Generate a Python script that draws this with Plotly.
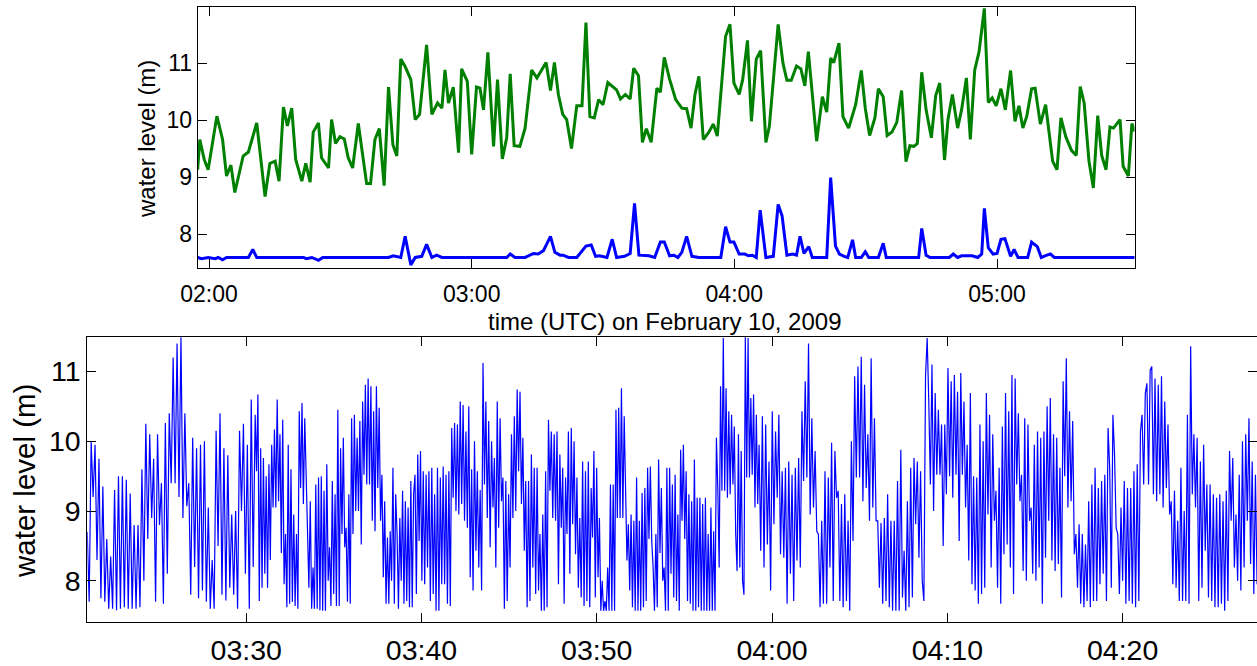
import numpy as np
import pandas as pd
import plotly.graph_objects as go

# ---------------- data ----------------
# top panel: minutes after 02:00 UTC, 10 Feb 2009
green_t = [-2.6, -2.1, -1.1, -0.2, 1.8, 3.1, 4.0, 5.0, 5.9, 7.8, 9.0, 10.9, 12.8, 13.9, 15.1, 16.0, 17.0, 17.9, 18.9,
           19.8, 21.2, 22.1, 23.1, 23.8, 25.0, 25.7, 27.3, 28.0, 28.9, 29.9, 30.9, 31.8, 32.8, 34.1, 36.0, 36.9, 37.9,
           38.9, 40.0, 41.0, 42.0, 42.9, 43.8, 44.8, 46.1, 47.1, 48.1, 49.7, 50.9, 52.2, 53.2, 53.9, 54.7, 55.8, 57.0,
           57.7, 59.0, 60.0, 61.1, 61.9, 62.7, 63.7, 65.0, 65.9, 67.0, 68.0, 68.8, 69.7, 71.0, 72.2, 73.7, 74.9, 77.0,
           78.0, 78.9, 79.8, 80.8, 81.7, 82.8, 84.0,
           85.2, 86.1, 87.0, 88.0, 89.0, 90.0, 91.1, 92.2, 93.1, 94.0, 95.1, 96.2, 97.0, 98.1, 99.0, 99.9, 101.0,
           102.3, 103.1, 104.0, 105.2, 106.6, 108.0, 109.1, 110.1, 111.0, 111.9, 112.9, 114.1, 115.2, 116.1, 118.0,
           119.0, 119.9, 121.1, 121.9, 123.0, 123.9, 125.0, 126.0, 127.2, 128.0, 130.0, 131.1, 132.0, 133.0, 134.2,
           135.2, 136.1, 136.9, 138.8, 140.1, 141.1, 142.0, 142.7, 143.9, 144.8, 146.1, 147.7, 149.0, 149.9, 150.9,
           152.1, 152.9, 154.0, 154.9, 156.0, 157.1, 158.2, 159.2, 160.1, 161.0, 161.8, 162.8, 163.8, 165.0, 166.0,
           166.9, 168.0, 168.8, 169.8, 171.0, 171.9, 173.0, 173.9, 174.9, 175.9, 177.1, 178.0, 178.9, 179.8, 180.9,
           181.9, 183.1, 184.1, 185.0, 185.9, 186.8, 187.9, 188.7, 189.9, 191.1, 192.7, 193.7, 194.6, 195.7, 197.0,
           198.1, 199.0, 199.9, 201.0, 202.0, 203.0, 203.9, 204.9, 205.8, 206.6, 208.1, 208.8, 210.0, 210.8, 211.5]
green_v = [9.13, 9.66, 9.31, 9.13, 10.07, 9.66, 9.02, 9.21, 8.73, 9.37, 9.44, 9.95, 8.66, 9.24, 9.28, 8.93, 10.23, 9.90,
           10.21, 9.31, 8.93, 9.24, 8.91, 9.79, 9.95, 9.34, 9.16, 10.01, 9.59, 9.71, 9.67, 9.34, 9.16, 9.94, 8.89, 8.89,
           9.66, 9.85, 8.85, 10.58, 9.57, 9.37, 11.07, 10.94, 10.71, 10.01, 10.10, 11.32, 10.10, 10.30, 10.21, 10.88,
           10.30, 10.58, 9.43, 10.90, 10.68, 9.40, 10.58, 10.56, 10.18, 11.19, 9.54, 10.71, 9.32, 9.69, 10.81, 9.55,
           9.54, 9.86, 10.88, 10.74, 11.01, 10.52, 11.01, 10.45, 10.10, 10.01, 9.50, 10.25,
           10.25, 11.71, 10.06, 10.04, 10.36, 10.27, 10.66, 10.58, 10.53, 10.37, 10.45, 10.37, 10.91, 10.78, 9.61,
           9.85, 9.61, 10.56, 10.49, 11.10, 10.72, 10.36, 10.21, 10.20, 9.86, 10.45, 10.77, 9.66, 9.78, 9.93, 9.72,
           11.47, 11.68, 10.65, 10.45, 10.71, 11.40, 9.98, 11.07, 11.22, 9.61, 9.89, 11.68, 11.00, 10.70, 10.70,
           10.95, 10.90, 10.60, 11.20, 9.63, 10.41, 10.14, 11.09, 11.01, 11.35, 10.06, 9.86, 10.27, 10.87, 10.21,
           9.73, 10.04, 10.55, 10.41, 9.73, 9.79, 9.96, 10.52, 9.27, 9.55, 9.54, 9.59, 10.84, 10.18, 9.69, 10.43,
           10.65, 9.30, 10.01, 10.45, 9.86, 10.18, 10.74, 9.66, 10.88, 11.20, 11.96, 10.31, 10.39, 10.25, 10.55,
           10.18, 10.87, 9.98, 10.25, 9.86, 10.07, 10.55, 10.56, 9.93, 10.27, 9.28, 9.13, 10.04, 9.71, 9.47, 9.38,
           10.59, 10.30, 9.28, 8.81, 10.08, 9.38, 9.13, 9.88, 9.86, 10.01, 9.19, 9.02, 9.94, 9.80]

blue_t = [-2.6, -1.7, -0.2, 1.4, 2.1, 3.1, 4.0, 9.0, 10.0, 10.9, 21.6, 22.2, 23.5, 25.0, 26.0, 41.0, 42.1, 43.8, 44.8,
          46.1, 47.1, 48.6, 49.7, 50.9, 52.0, 53.2, 68.0, 68.8, 69.9, 72.2, 74.1, 75.2, 76.4, 78.0, 79.0, 80.2, 80.9,
          82.1, 84.0,
          86.1, 87.3, 88.3, 89.2, 90.9, 92.1, 93.1, 94.9, 96.2, 97.2, 98.2, 100.5, 101.8, 103.1, 104.0, 105.2, 106.2,
          107.1, 108.0, 109.1, 110.3, 111.9, 116.9, 118.0, 119.0, 119.9, 121.1, 122.4, 123.2, 124.1, 125.0, 125.9,
          127.2, 128.9, 130.0, 130.9, 132.0, 133.3, 134.2, 135.0, 135.9, 137.0, 137.8, 141.1, 142.0, 143.1, 144.0,
          145.1, 145.9, 147.0, 147.7, 149.0, 149.9, 150.7, 152.9, 154.0, 154.7, 162.1, 162.8, 163.8, 164.7, 169.1,
          170.0, 171.0, 171.9, 174.3, 175.6, 176.5, 177.1, 178.0, 179.1, 180.0, 180.9, 181.8, 183.1, 183.9, 184.8,
          187.0, 187.9, 189.2, 190.1, 191.4, 192.2, 193.1, 211.5]
blue_v = [7.59, 7.57, 7.59, 7.57, 7.59, 7.55, 7.59, 7.59, 7.73, 7.59, 7.59, 7.57, 7.59, 7.54, 7.59, 7.59, 7.62, 7.59,
          7.96, 7.46, 7.59, 7.61, 7.82, 7.59, 7.63, 7.59, 7.59, 7.65, 7.59, 7.59, 7.66, 7.65, 7.71, 7.96, 7.68, 7.63,
          7.63, 7.59, 7.59,
          7.79, 7.81, 7.61, 7.62, 7.59, 7.91, 7.59, 7.61, 7.66, 8.54, 7.63, 7.62, 7.59, 7.86, 7.86, 7.62, 7.63, 7.59,
          7.68, 7.96, 7.61, 7.59, 7.59, 8.13, 7.86, 7.86, 7.65, 7.65, 7.62, 7.63, 7.59, 8.42, 7.59, 7.61, 8.52, 8.32,
          7.63, 7.65, 7.63, 7.96, 7.66, 7.78, 7.59, 7.59, 8.99, 7.79, 7.65, 7.61, 7.59, 7.90, 7.59, 7.59, 7.69, 7.59,
          7.59, 7.84, 7.59, 7.59, 8.10, 7.63, 7.59, 7.59, 7.65, 7.59, 7.62, 7.62, 7.59, 7.65, 8.45, 7.76, 7.65, 7.66,
          7.91, 7.92, 7.61, 7.73, 7.59, 7.59, 7.86, 7.78, 7.59, 7.63, 7.65, 7.59, 7.59]

# bottom panel: high-rate record, minutes after 03:30 UTC; segment start times and the end time
seg_edges = [-9.07, 0.51, 10.10, 19.68, 29.26, 38.85, 48.43, 57.67]
seg1 = [8.7, 7.7, 10.0, 9.2, 9.95, 8.3, 9.75, 7.75, 9.35, 7.7, 8.6, 7.6, 8.35, 7.6, 9.3, 7.58, 9.5, 7.6, 9.5, 7.62,
        9.45, 7.6, 9.25, 7.6, 8.8, 7.6, 8.8, 7.62, 9.6, 8.0, 10.25, 8.6, 10.1, 8.9, 9.75, 7.7, 10.1, 8.8, 9.4, 7.67,
        10.26, 8.1, 10.4, 9.4, 11.2, 9.4, 11.4, 9.2, 11.5, 8.9, 10.4, 9.07, 9.4, 7.8, 10.05, 8.2, 9.9, 7.75, 9.95,
        7.86, 10.0, 7.7, 9.05, 7.6, 8.3, 7.6, 10.15, 8.5, 10.4, 7.8, 9.9, 7.72, 9.8, 7.9, 8.95, 7.8, 9.0, 7.6, 10.15,
        9.0, 10.25, 8.1, 9.95, 7.6, 10.6, 8.2]
seg2 = [10.38, 9.57, 10.67, 7.71, 9.9, 7.9, 9.76, 8.1, 9.5, 7.9, 9.67, 8.3, 9.95, 9.05, 10.17, 9.05, 10.6, 9.14, 10.1,
        8.4, 10.31, 7.95, 8.67, 7.62, 9.95, 7.67, 9.6, 7.7, 8.95, 7.64, 8.67, 7.6, 10.43, 9.33, 10.55, 9.1, 10.33,
        9.52, 9.14, 7.9, 9.14, 7.6, 8.19, 7.6, 9.38, 7.6, 9.48, 7.58, 9.5, 7.57, 9.29, 7.57, 9.67, 8.0, 8.48, 7.64,
        9.43, 7.81, 9.24, 7.64, 10.45, 7.64, 9.9, 8.67, 10.05, 8.48, 8.76, 7.7, 9.24, 7.67, 10.33, 8.67, 10.38, 9.0,
        10.05, 9.0, 10.29, 8.52, 10.57, 9.52, 10.81, 9.38, 10.9, 9.38, 10.79, 8.86, 10.43, 8.71, 10.79, 9.33, 10.48,
        8.86, 9.52, 8.05, 9.14, 7.67, 8.62, 7.67, 8.71, 8.0, 9.62, 7.67, 9.24, 8.67, 7.6, 8.9, 8.0, 9.29, 7.67, 9.14,
        7.71, 9.05, 7.62, 9.43, 7.62, 9.24, 9.52, 7.81, 9.81, 8.57, 9.86, 8.0]
seg3 = [9.57, 7.95, 9.52, 8.19, 9.57, 7.71, 9.62, 7.81, 9.24, 7.57, 9.62, 7.57, 9.48, 7.95, 9.64, 7.95, 9.52, 7.67,
        9.57, 7.64, 10.19, 9.19, 10.26, 9.0, 10.24, 8.95, 10.57, 9.1, 10.52, 8.86, 10.14, 8.76, 10.5, 8.05, 9.6, 7.86,
        10.0, 8.43, 9.57, 8.19, 9.3, 7.86, 11.12, 9.38, 10.57, 8.9, 10.29, 8.48, 10.0, 9.05, 9.76, 8.19, 10.57, 8.76,
        10.33, 9.14, 9.48, 7.6, 9.43, 7.71, 9.24, 8.19, 10.1, 8.9, 10.36, 9.0, 10.74, 9.57, 10.71, 9.1, 10.05, 8.43,
        9.43, 7.62, 9.43, 7.71, 9.81, 8.19, 9.62, 7.81, 9.62, 7.86, 8.67, 7.57, 8.95, 7.57, 9.57, 7.62, 10.31, 9.29,
        10.14, 8.9, 10.1, 8.86, 10.14, 7.95, 9.81, 8.76, 9.62, 7.67, 9.48, 8.67, 10.14, 8.1, 10.19, 8.81, 10.0, 8.38,
        9.48, 7.9, 8.9, 7.76, 9.71, 7.64, 9.57, 7.71, 9.71, 7.62]
seg4 = [9.33, 8.62, 9.86, 7.76, 9.62, 8.05, 8.9, 7.57, 8.0, 7.57, 7.71, 7.57, 8.19, 7.57, 9.38, 7.57, 9.38, 7.57,
        10.45, 8.9, 10.48, 8.9, 10.76, 8.9, 10.36, 9.29, 8.29, 8.81, 7.86, 8.95, 7.62, 8.86, 7.57, 9.48, 7.57, 8.86,
        7.57, 9.26, 7.62, 9.33, 7.71, 9.62, 8.6, 9.64, 8.57, 8.19, 7.57, 8.67, 7.62, 9.74, 8.4, 9.33, 8.0, 8.19, 7.57,
        9.62, 7.57, 9.62, 8.1, 9.38, 7.76, 9.52, 7.71, 8.95, 7.57, 9.88, 8.86, 9.95, 8.6, 9.57, 7.71, 9.24, 7.67,
        9.14, 7.57, 9.74, 7.57, 9.19, 7.62, 9.19, 7.57, 9.1, 7.57, 9.19, 7.57, 8.67, 7.57, 9.05, 7.57, 8.71, 7.57,
        10.05, 9.33, 8.19, 10.79, 9.29, 11.48, 9.29, 10.76, 9.19, 10.43, 9.24, 10.38, 9.38, 10.21, 8.67, 8.14, 10.1,
        8.19, 9.86, 8.0, 7.8, 11.5, 9.48, 11.48, 9.48, 10.62, 9.52, 10.67, 9.05, 10.38, 9.1]
seg5 = [9.95, 8.43, 10.36, 8.19, 10.24, 8.52, 9.71, 7.86, 10.43, 8.81, 10.14, 9.19, 10.38, 8.38, 9.57, 8.33, 9.62,
        7.67, 9.71, 8.1, 9.52, 7.71, 9.62, 8.29, 9.76, 8.19, 10.43, 9.43, 10.86, 9.48, 11.4, 8.95, 10.33, 9.05, 9.86,
        8.71, 8.67, 7.62, 8.86, 7.67, 9.57, 7.67, 9.48, 8.19, 9.98, 7.71, 9.86, 9.19, 9.29, 7.71, 9.1, 7.62, 9.24,
        7.71, 8.86, 7.57, 10.0, 8.57, 10.93, 9.48, 11.07, 9.48, 11.21, 9.14, 10.81, 9.33, 10.1, 8.86, 11.19, 9.05,
        10.33, 8.86, 8.86, 7.9, 8.83, 7.67, 8.9, 7.71, 9.24, 7.62, 8.86, 7.57, 8.86, 7.57, 9.43, 7.57, 9.88, 7.76,
        8.43, 7.57, 9.14, 7.62, 9.62, 7.76, 9.76, 8.81, 9.71, 8.33, 9.57, 8.0, 7.71, 10.93]
seg6 = [11.48, 10.57, 9.38, 11.1, 9.0, 10.69, 9.52, 10.45, 9.52, 10.24, 8.5, 10.24, 9.24, 11.05, 9.5, 10.86, 9.19,
        10.95, 9.52, 10.71, 8.57, 10.98, 9.52, 10.57, 9.05, 9.95, 8.29, 10.69, 7.95, 9.5, 7.86, 9.48, 7.67, 10.24,
        7.81, 10.0, 7.9, 10.69, 8.95, 10.38, 8.19, 10.1, 8.86, 9.29, 7.9, 9.62, 7.67, 10.21, 8.38, 10.69, 8.52,
        10.43, 8.19, 10.95, 7.81, 10.9, 9.38, 10.4, 9.14, 9.52, 8.14, 10.33, 8.0, 10.24, 8.86, 9.05, 8.1, 9.95, 8.0,
        10.14, 8.19, 10.05, 7.67, 10.14, 8.33, 10.5, 8.86, 10.62, 8.29, 10.1, 8.14, 10.05, 8.24, 9.62, 7.76, 10.86,
        9.5, 11.19, 9.05, 10.43, 9.14, 10.29, 8.38, 8.67, 7.9, 8.81, 7.67, 8.67, 7.62, 8.52, 7.71, 9.14, 7.62, 9.38,
        7.71]
seg7 = [9.62, 7.71, 9.33, 7.95, 9.43, 8.1, 9.52, 7.71, 10.19, 9.62, 7.9, 10.38, 9.81, 8.76, 8.67, 7.81, 9.05, 8.0,
        9.43, 7.67, 9.33, 7.71, 9.33, 7.67, 9.57, 7.62, 9.67, 7.71, 10.14, 10.38, 9.38, 10.69, 10.83, 9.38, 11.02,
        11.07, 9.24, 10.9, 9.14, 10.81, 9.24, 10.93, 9.05, 10.57, 9.33, 10.24, 8.95, 9.14, 7.95, 9.29, 7.9, 8.86,
        7.71, 9.62, 7.71, 9.0, 7.71, 10.38, 7.67, 11.36, 9.24, 10.1, 9.05, 10.05, 7.71, 9.71, 7.9, 9.95, 8.43, 9.38,
        7.76, 9.38, 7.71, 9.24, 7.62, 9.19, 7.62, 9.24, 7.67, 9.14, 7.57, 9.29, 7.71, 9.86, 8.86, 9.76, 8.19, 8.95,
        8.0, 9.52, 7.86, 10.0, 8.19, 10.1, 8.86, 10.33, 8.24, 9.71, 7.81, 9.52, 7.95]
segments = [seg1, seg2, seg3, seg4, seg5, seg6, seg7]

top_ticks = ["02:00", "03:00", "04:00", "05:00"]
bot_ticks = ["03:30", "03:40", "03:50", "04:00", "04:10", "04:20"]
y_ticks = [8, 9, 10, 11]

# ---------------- build ----------------
day = "2009-02-10 "
base_top = pd.Timestamp(day + "02:00")
base_bot = pd.Timestamp(day + "03:30")
gx = base_top + pd.to_timedelta(green_t, unit="m")
bx = base_top + pd.to_timedelta(blue_t, unit="m")

bt, bv = [], []
for k, seg in enumerate(segments):
    last = (k == len(segments) - 1)
    t = np.linspace(seg_edges[k], seg_edges[k + 1], len(seg), endpoint=last)
    bt.extend(t.tolist())
    bv.extend(seg)
hx = base_bot + pd.to_timedelta(bt, unit="m")

W, H = 1257, 666
FONT = "Liberation Sans, Arial, Helvetica, sans-serif"

fig = go.Figure()
fig.add_trace(go.Scatter(x=gx, y=green_v, mode="lines", line=dict(color="#008000", width=3),
                         xaxis="x", yaxis="y", showlegend=False))
fig.add_trace(go.Scatter(x=bx, y=blue_v, mode="lines", line=dict(color="#0000ff", width=3),
                         xaxis="x", yaxis="y", showlegend=False))
fig.add_trace(go.Scatter(x=hx, y=bv, mode="lines", line=dict(color="#0000ff", width=1.2),
                         xaxis="x2", yaxis="y2", showlegend=False))

ax_common = dict(showgrid=False, zeroline=False, showline=True, linecolor="black", linewidth=1,
                 mirror="ticks", ticks="inside", ticklen=9, tickcolor="black", tickwidth=1,
                 automargin=False)

fig.update_layout(
    width=W, height=H, margin=dict(l=0, r=0, t=0, b=0, pad=0), autosize=False,
    paper_bgcolor="white", plot_bgcolor="white",
    font=dict(family=FONT, color="black"),
    xaxis=dict(ax_common, type="date", domain=[197.7 / W, 1134.5 / W], anchor="y",
               range=[day + "01:57:25", day + "05:31:24"],
               tickvals=[day + s for s in top_ticks], ticktext=top_ticks,
               ticklabelstandoff=5,
               tickfont=dict(size=23, family=FONT)),
    yaxis=dict(ax_common, domain=[1 - 268.3 / H, 1 - 6.7 / H], anchor="x",
               range=[7.4, 11.99], tickvals=y_ticks, ticktext=[str(v) for v in y_ticks],
               tickfont=dict(size=23, family=FONT)),
    xaxis2=dict(ax_common, type="date", domain=[87.3 / W, 1.0], anchor="y2",
                range=[day + "03:20:56", day + "04:27:40"],
                tickvals=[day + s for s in bot_ticks], ticktext=bot_ticks,
                ticklabelstandoff=3,
                tickfont=dict(size=28.5, family=FONT)),
    yaxis2=dict(ax_common, domain=[1 - 622 / H, 1 - 337.3 / H], anchor="x2",
                range=[7.41, 11.49], tickvals=y_ticks, ticktext=[str(v) for v in y_ticks],
                tickfont=dict(size=28.5, family=FONT)),
    annotations=[
        dict(text="water level (m)", xref="paper", yref="paper", x=146 / W, y=1 - 139 / H,
             textangle=-90, showarrow=False, xanchor="center", yanchor="middle",
             font=dict(size=24, family=FONT)),
        dict(text="time (UTC) on February 10, 2009", xref="paper", yref="paper", x=664 / W, y=1 - 321.5 / H,
             showarrow=False, xanchor="center", yanchor="middle", font=dict(size=24, family=FONT)),
        dict(text="water level (m)", xref="paper", yref="paper", x=24 / W, y=1 - 481 / H,
             textangle=-90, showarrow=False, xanchor="center", yanchor="middle",
             font=dict(size=29.5, family=FONT)),
    ],
)

fig.write_html("out.html", config={"displayModeBar": False},
               post_script="document.body.style.margin='0';document.body.style.overflow='hidden';")
